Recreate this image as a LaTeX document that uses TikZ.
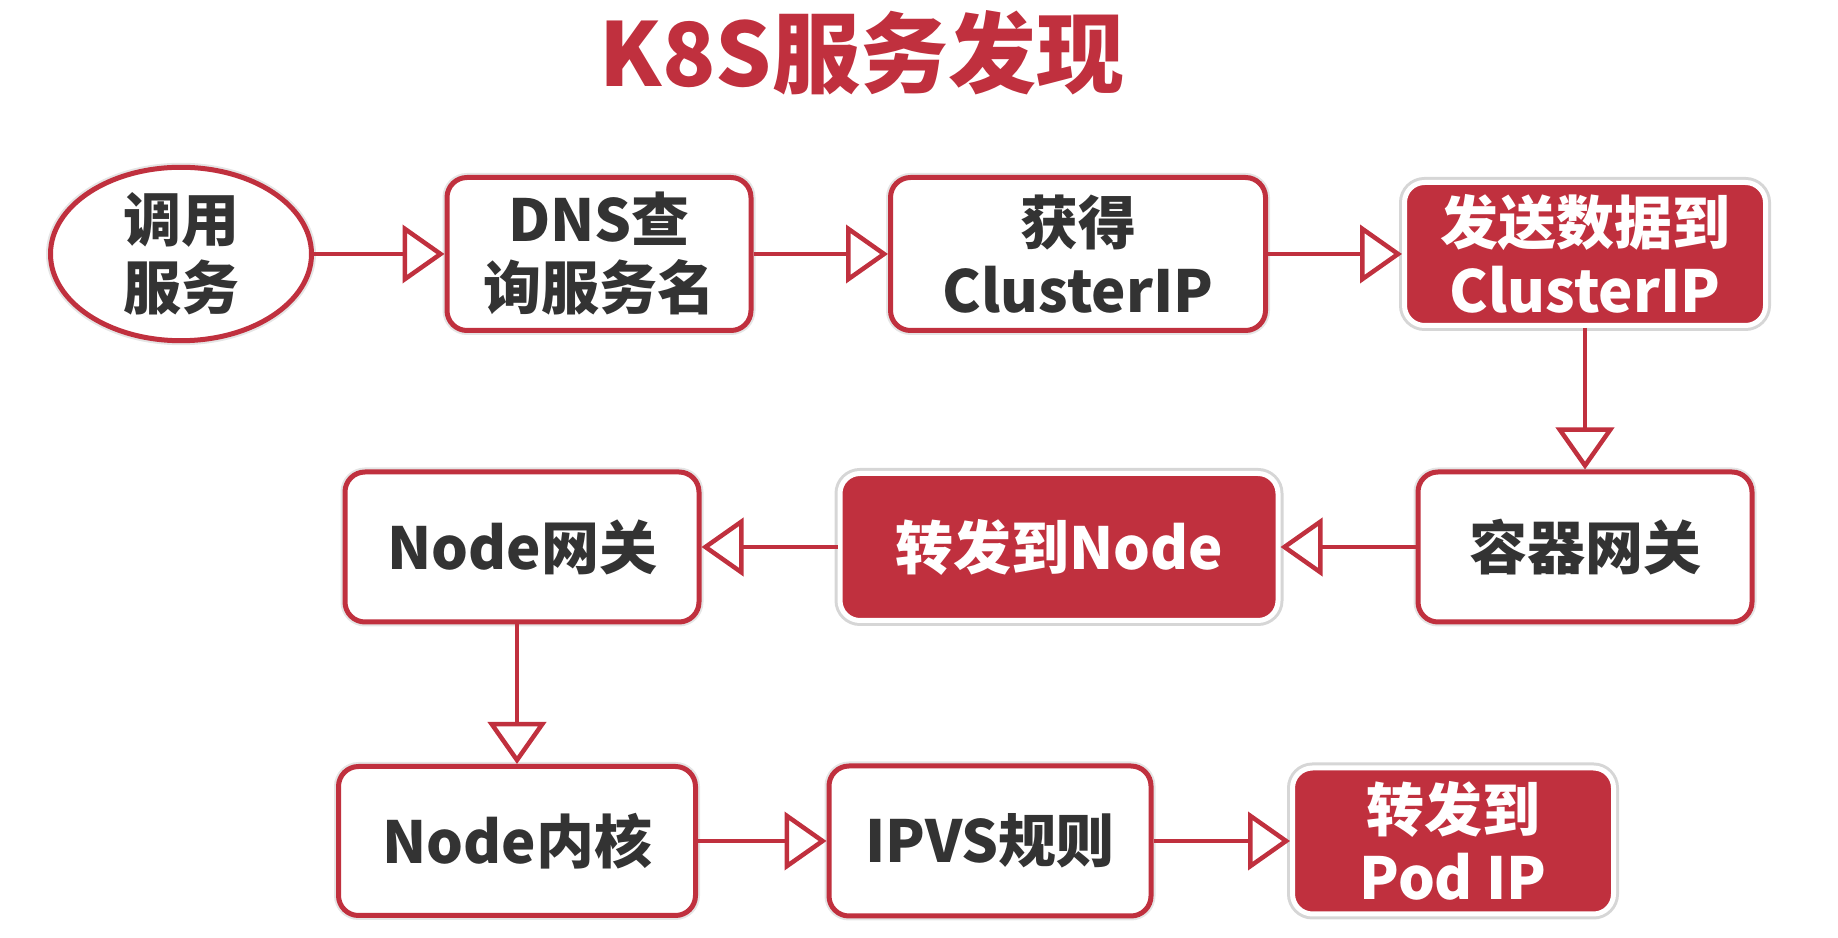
\documentclass[tikz,border=0pt]{standalone}
\usepackage{fontspec}
\setmainfont{Noto Sans CJK SC}
\usetikzlibrary{arrows.meta,shapes.geometric}
\definecolor{k8sred}{RGB}{192,48,62}
\definecolor{txtgray}{RGB}{51,51,51}
\tikzset{
  step box/.style={draw=k8sred, line width=5bp, rounded corners=20bp, fill=white,
    text=txtgray, inner sep=0pt, align=center,
    font=\bfseries\fontsize{58bp}{68bp}\selectfont,
    preaction={draw=black!10, line width=9bp}},
  hot box/.style={step box, fill=k8sred, draw=white, text=white,
    preaction={draw=black!16, line width=11bp}},
  start oval/.style={step box, ellipse, rounded corners=0pt},
}
\begin{document}
\begin{tikzpicture}[>={Triangle[length=42bp,width=58bp,fill=white]},line join=miter]
  \useasboundingbox (0bp,0bp) rectangle (1838bp,938bp);
  % Title
  \node (title) at (862bp,885bp) [text=k8sred, font=\bfseries\fontsize{88bp}{92bp}\selectfont] {K8S服务发现};
  % Node: 调用服务
  \node (call) at (181bp,684bp) [start oval, minimum width=261bp, minimum height=158bp] {调用\\服务};
  % Node: DNS查询服务名
  \node (dns) at (599bp,684bp) [step box, minimum width=304bp, minimum height=153bp] {DNS查\\询服务名};
  % Node: 获得ClusterIP
  \node (getip) at (1078bp,684bp) [step box, minimum width=375bp, minimum height=153bp] {获得\\ClusterIP};
  % Node: 发送数据到ClusterIP
  \node (send) at (1585bp,684bp) [hot box, minimum width=361bp, minimum height=143bp] {发送数据到\\ClusterIP};
  % Node: 容器网关
  \node (cgw) at (1585bp,391bp) [step box, minimum width=334bp, minimum height=150bp] {容器网关};
  % Node: 转发到Node
  \node (fwdnode) at (1059bp,391bp) [hot box, minimum width=438bp, minimum height=147bp] {转发到Node};
  % Node: Node网关
  \node (ngw) at (522bp,391bp) [step box, minimum width=354bp, minimum height=150bp] {Node网关};
  % Node: Node内核
  \node (kernel) at (517bp,97bp) [step box, minimum width=357bp, minimum height=149bp] {Node内核};
  % Node: IPVS规则
  \node (ipvs) at (990bp,97bp) [step box, minimum width=322bp, minimum height=150bp] {IPVS规则};
  % Node: 转发到Pod IP
  \node (pod) at (1453bp,97bp) [hot box, minimum width=321bp, minimum height=146bp] {转发到\\Pod IP};
  \begin{scope}[draw=k8sred, line width=4.5bp]
  % Edge: call -> dns
  \draw [->] (call) -- (dns);
  % Edge: dns -> getip
  \draw [->] (dns) -- (getip);
  % Edge: getip -> send
  \draw [->] (getip) -- (send);
  % Edge: send -> cgw
  \draw [->] (send) -- (cgw);
  % Edge: cgw -> fwdnode
  \draw [->] (cgw) -- (fwdnode);
  % Edge: fwdnode -> ngw
  \draw [->] (fwdnode) -- (ngw);
  % Edge: ngw -> kernel
  \draw [->] (ngw.south -| kernel.north) -- (kernel.north);
  % Edge: kernel -> ipvs
  \draw [->] (kernel) -- (ipvs);
  % Edge: ipvs -> pod
  \draw [->] (ipvs) -- (pod);
  \end{scope}
\end{tikzpicture}
\end{document}
